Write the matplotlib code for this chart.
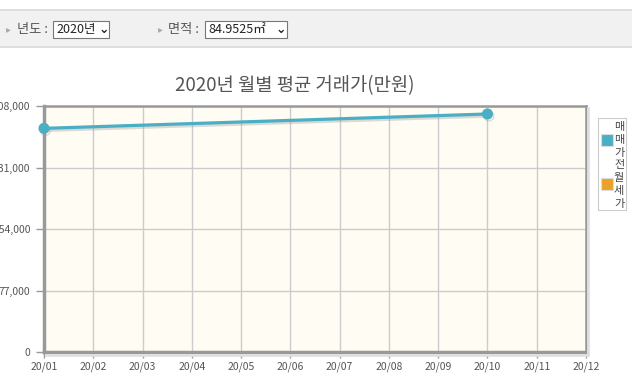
import matplotlib
matplotlib.use("Agg")
import matplotlib.pyplot as plt
import matplotlib.patheffects as pe
from matplotlib.patches import Rectangle
from matplotlib.lines import Line2D

plt.rcParams['font.family'] = ['Noto Sans CJK KR', 'DejaVu Sans']

months = ["20/01", "20/02", "20/03", "20/04", "20/05", "20/06",
          "20/07", "20/08", "20/09", "20/10", "20/11", "20/12"]
sale_months = ["20/01", "20/10"]
sale_values = [280000, 298000]
y_ticks = [0, 77000, 154000, 231000, 308000]
title = "2020년 월별 평균 거래가(만원)"
legend_names = ["매매가", "전월세가"]
colors = ["#4aafc5", "#eaa22a"]

W, H = 632, 377
fig = plt.figure(figsize=(W / 100, H / 100), dpi=100)
fig.patch.set_facecolor("white")

def fx(x): return x / W
def fy(y): return 1 - y / H

# top control bar
fig.patches.append(Rectangle((0, fy(47)), 1, (47 - 10) / H, transform=fig.transFigure,
                             facecolor="#f1f1f1", edgecolor="none", zorder=0))
for yy in (10, 47):
    fig.lines.append(Line2D([0, 1], [fy(yy), fy(yy)], transform=fig.transFigure,
                            color="#d9d9d9", lw=1.2))
fig.text(fx(6), fy(29), "▸", fontsize=7, color="#aaaaaa", va="center", family=["DejaVu Sans"])
fig.text(fx(17), fy(29), "년도 :", fontsize=9.5, color="#555555", va="center")
fig.patches.append(Rectangle((fx(53), fy(38)), 56 / W, 17 / H, transform=fig.transFigure,
                             facecolor="white", edgecolor="#777777", lw=0.8))
fig.text(fx(56), fy(29.5), "2020년", fontsize=9, color="#222222", va="center")
fig.text(fx(99), fy(29.5), "⌄", fontsize=9, color="#222222", va="center", weight="bold", family=["DejaVu Sans"])
fig.text(fx(158), fy(29), "▸", fontsize=7, color="#aaaaaa", va="center", family=["DejaVu Sans"])
fig.text(fx(168), fy(29), "면적 :", fontsize=9.5, color="#555555", va="center")
fig.patches.append(Rectangle((fx(205), fy(38)), 82 / W, 17 / H, transform=fig.transFigure,
                             facecolor="white", edgecolor="#777777", lw=0.8))
fig.text(fx(208), fy(29.5), "84.9525㎡", fontsize=9, color="#222222", va="center")
fig.text(fx(276), fy(29.5), "⌄", fontsize=9, color="#222222", va="center", weight="bold", family=["DejaVu Sans"])

# title
fig.text(fx(295), fy(86), title, fontsize=13.5, color="#555555", ha="center", va="center")

# axes
ax = fig.add_axes([fx(44), fy(352), 542 / W, 246 / H])
ax.set_facecolor("#fffcf4")
x_idx = list(range(len(months)))
ax.set_xlim(0, len(months) - 1)
ax.set_ylim(0, 308000)
ax.set_xticks(x_idx)
ax.set_xticklabels(months)
ax.set_yticks(y_ticks)
ax.set_yticklabels([f"{v:,}" for v in y_ticks])
ax.grid(True, color="#cccccc", lw=1)
ax.set_axisbelow(True)
ax.tick_params(axis="both", colors="#999999", labelcolor="#555555", labelsize=7.5)
ax.tick_params(axis="y", length=6, width=1, pad=4)
ax.tick_params(axis="x", length=4, width=1, pad=3)
for s in ax.spines.values():
    s.set_color("#999999")
    s.set_linewidth(1.8)
for s in ("left", "bottom"):
    ax.spines[s].set_linewidth(2.5)
    ax.spines[s].set_color("#999999")

# shadow on right/bottom of frame
fig.lines.append(Line2D([fx(588), fx(588)], [fy(108), fy(354)], transform=fig.transFigure,
                        color="#e0e0e0", lw=2))
fig.lines.append(Line2D([fx(46), fx(588)], [fy(354.5), fy(354.5)], transform=fig.transFigure,
                        color="#e0e0e0", lw=2))

xs = [months.index(m) for m in sale_months]
ax.plot(xs, sale_values, color=colors[0], lw=2.3, marker="o", ms=7, clip_on=False, zorder=5,
        path_effects=[pe.SimpleLineShadow(offset=(1, -1.5), shadow_color="#999999", alpha=0.35),
                      pe.Normal()])

# legend box
fig.patches.append(Rectangle((fx(598), fy(210)), 28 / W, 92 / H, transform=fig.transFigure,
                             facecolor="white", edgecolor="#cccccc", lw=0.8))
fig.patches.append(Rectangle((fx(600.5), fy(146)), 12 / W, 12 / H, transform=fig.transFigure,
                             facecolor=colors[0], edgecolor="#dddddd", lw=0.8))
fig.patches.append(Rectangle((fx(600.5), fy(190)), 12 / W, 12 / H, transform=fig.transFigure,
                             facecolor=colors[1], edgecolor="#dddddd", lw=0.8))
chars = list(legend_names[0] + legend_names[1])
for i, ch in enumerate(chars):
    fig.text(fx(614), fy(127 + i * 12.8), ch, fontsize=8, color="#444444", va="center", ha="left")

fig.savefig("out.png", dpi=100)
